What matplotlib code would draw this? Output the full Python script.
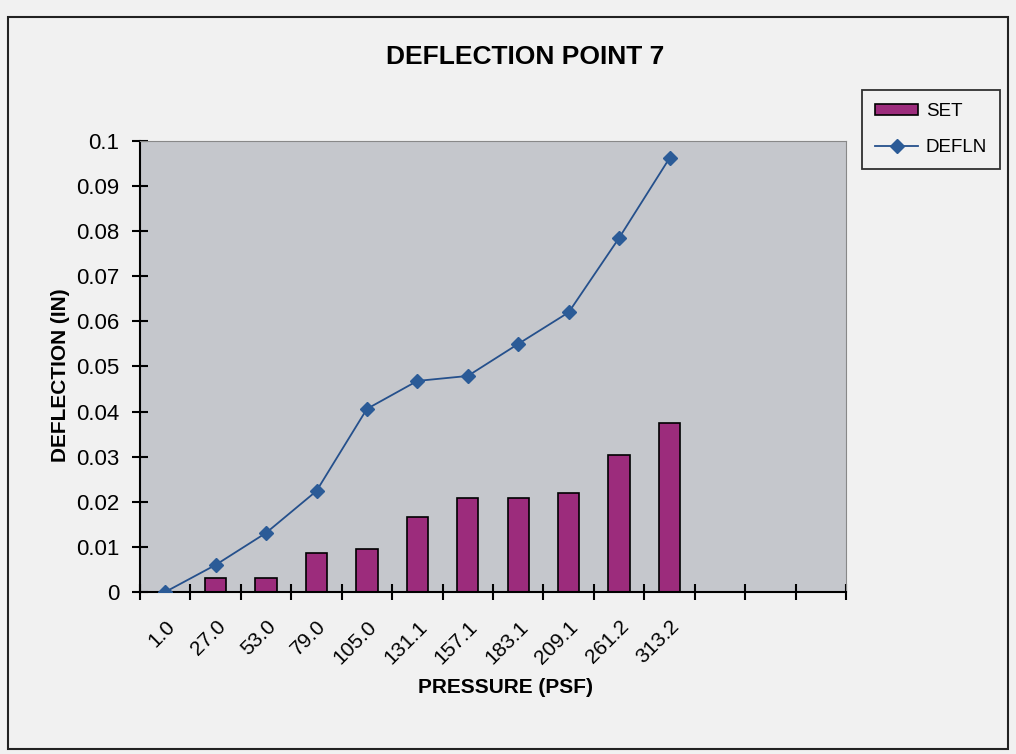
import matplotlib.pyplot as plt
from matplotlib.patches import Rectangle
import numpy as np

plt.rcParams['font.family'] = ['Liberation Sans', 'DejaVu Sans']

pressure = ["1.0", "27.0", "53.0", "79.0", "105.0", "131.1", "157.1",
            "183.1", "209.1", "261.2", "313.2", "", "", ""]
set_vals = [0.0, 0.0031, 0.0031, 0.0086, 0.0095, 0.0166, 0.0208,
            0.0208, 0.0220, 0.0304, 0.0375]
defln = [0.0, 0.0060, 0.0131, 0.0224, 0.0406, 0.0468, 0.0479,
         0.0550, 0.0620, 0.0785, 0.0962]

fig = plt.figure(figsize=(10.16, 7.54), dpi=100, facecolor='#f1f1f1')
ax = fig.add_axes([0.1378, 0.2149, 0.6949, 0.5981])
ax.set_facecolor('#c5c7cc')

# outer chart frame
fig.patches.append(Rectangle((0.008, 0.006), 0.984, 0.972, transform=fig.transFigure,
                             fill=False, edgecolor='#222222', linewidth=1.5))

x = np.arange(len(set_vals))
bars = ax.bar(x, set_vals, width=0.42, color='#9c2c7c', edgecolor='black',
              linewidth=1.2, label='SET', zorder=2)
line, = ax.plot(x, defln, color='#25508c', linewidth=1.3, marker='D', markersize=7.5,
                markerfacecolor='#2b5b97', markeredgecolor='#2b5b97', label='DEFLN', zorder=3)

ax.set_xlim(-0.5, len(pressure) - 0.5)
ax.set_ylim(0, 0.1)
ax.set_yticks(np.arange(0, 0.101, 0.01))
ax.set_yticklabels(['0', '0.01', '0.02', '0.03', '0.04', '0.05', '0.06',
                    '0.07', '0.08', '0.09', '0.1'])
ax.set_xticks(np.arange(len(pressure) + 1) - 0.5)
ax.set_xticklabels([])
ax.set_xticks(np.arange(len(pressure)), minor=True)
ax.set_xticklabels(pressure, minor=True, rotation=45, ha='right', va='top',
                   rotation_mode='anchor', fontsize=15)
ax.tick_params(axis='x', which='minor', length=0, pad=18)
ax.tick_params(axis='x', which='major', direction='inout', length=12, width=1.5)
ax.tick_params(axis='y', direction='inout', length=12, width=1.5, labelsize=16, pad=9)

for s in ['top', 'right']:
    ax.spines[s].set_color('#888888')
    ax.spines[s].set_linewidth(0.8)
for s in ['left', 'bottom']:
    ax.spines[s].set_linewidth(1.5)

fig.text(0.517, 0.924, 'DEFLECTION POINT 7', fontsize=19, fontweight='bold',
         ha='center', va='center')
ax.set_xlabel('PRESSURE (PSF)', fontsize=15, fontweight='bold')
ax.xaxis.set_label_coords(0.517, -0.19)
ax.set_ylabel('DEFLECTION (IN)', fontsize=15, fontweight='bold')
ax.yaxis.set_label_coords(-0.099, 0.481)

leg = fig.legend([bars, line], ['SET', 'DEFLN'], loc='upper left',
                 bbox_to_anchor=(862 / 1016, 1 - 90 / 754), borderaxespad=0,
                 fontsize=13.5, frameon=True, fancybox=False, edgecolor='black',
                 facecolor='#f1f1f1', handlelength=2.3, handleheight=0.5,
                 borderpad=0.7, labelspacing=1.0, handletextpad=0.4)
leg.get_frame().set_linewidth(1.3)

fig.savefig('out.png', dpi=100, facecolor=fig.get_facecolor())
